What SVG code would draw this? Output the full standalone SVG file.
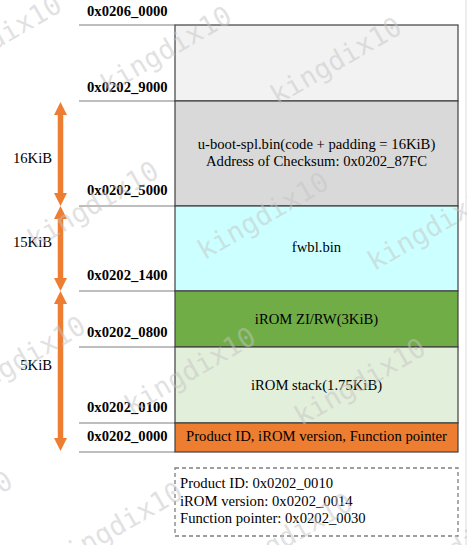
<svg xmlns="http://www.w3.org/2000/svg" xmlns:xlink="http://www.w3.org/1999/xlink" width="467" height="545" viewBox="0 0 467 545">
<style>
.addr{font-family:"Liberation Serif","Times New Roman",serif;font-size:14.67px;font-weight:bold;fill:#000}
.lbl{font-family:"Liberation Serif","Times New Roman",serif;font-size:14.67px;fill:#000}
.mid{text-anchor:middle}
.end{text-anchor:end}
.sep{stroke:#7f7f7f;stroke-width:1.2}
.blk{stroke:#404040;stroke-width:1.2}
.wm{font-family:"DejaVu Sans Mono",monospace;font-size:27px;fill:#c4c4c4;fill-opacity:0.5;text-anchor:middle}
.dim{stroke:#ed7d31;stroke-width:5.5;fill:none}
</style>
<defs>
<marker id="ah" markerUnits="userSpaceOnUse" markerWidth="13" markerHeight="13" refX="3" refY="6.5" orient="auto-start-reverse" viewBox="0 0 13 13">
<path d="M0,0 L13,6.5 L0,13 Z" fill="#ed7d31"/>
</marker>
<text id="wmt" class="wm" x="0" y="9">kingdix10</text>
</defs>
<rect width="467" height="545" fill="#fff"/>
<line x1="466" y1="0" x2="466" y2="545" stroke="#dcdcdc" stroke-width="1"/>

<g id="separators">
<line class="sep" x1="79" y1="25" x2="175" y2="25"/>
<line class="sep" x1="79" y1="101" x2="175" y2="101"/>
<line class="sep" x1="79" y1="206" x2="175" y2="206"/>
<line class="sep" x1="79" y1="291" x2="175" y2="291"/>
<line class="sep" x1="79" y1="347" x2="175" y2="347"/>
<line class="sep" x1="79" y1="423" x2="175" y2="423"/>
<line class="sep" x1="79" y1="452" x2="175" y2="452"/>
</g>

<g id="addresses">
<text class="addr" x="87" y="16">0x0206_0000</text>
<text class="addr" x="87" y="92">0x0202_9000</text>
<text class="addr" x="87" y="195">0x0202_5000</text>
<text class="addr" x="87" y="280">0x0202_1400</text>
<text class="addr" x="87" y="337">0x0202_0800</text>
<text class="addr" x="87" y="412">0x0202_0100</text>
<text class="addr" x="87" y="441">0x0202_0000</text>
</g>

<g id="node-free">
<rect class="blk" x="175" y="25" width="283" height="76" fill="#f2f2f2"/>
</g>
<g id="node-uboot">
<rect class="blk" x="175" y="101" width="283" height="105" fill="#d9d9d9"/>
<text class="lbl mid" x="316.5" y="149">u-boot-spl.bin(code + padding = 16KiB)</text>
<text class="lbl mid" x="316.5" y="166">Address of Checksum: 0x0202_87FC</text>
</g>
<g id="node-fwbl">
<rect class="blk" x="175" y="206" width="283" height="85" fill="#ccffff"/>
<text class="lbl mid" x="316.5" y="252">fwbl.bin</text>
</g>
<g id="node-zirw">
<rect class="blk" x="175" y="291" width="283" height="56" fill="#70ad47"/>
<text class="lbl mid" x="316.5" y="323.5">iROM ZI/RW(3KiB)</text>
</g>
<g id="node-stack">
<rect class="blk" x="175" y="347" width="283" height="76" fill="#e2efda"/>
<text class="lbl mid" x="316.5" y="390">iROM stack(1.75KiB)</text>
</g>
<g id="node-header">
<rect class="blk" x="175" y="423" width="283" height="29" fill="#ed7d31"/>
<text class="lbl mid" x="316.5" y="441">Product ID, iROM version, Function pointer</text>
</g>
<g id="node-note">
<rect x="175" y="468" width="283" height="68" fill="#fff" stroke="#7f7f7f" stroke-width="1.3" stroke-dasharray="4,3"/>
<text class="lbl" x="180" y="488">Product ID: 0x0202_0010</text>
<text class="lbl" x="180" y="505.5">iROM version: 0x0202_0014</text>
<text class="lbl" x="180" y="522.5">Function pointer: 0x0202_0030</text>
</g>

<g id="connectors">
<line class="dim" x1="60.5" y1="112" x2="60.5" y2="196" marker-start="url(#ah)" marker-end="url(#ah)"/>
<line class="dim" x1="60.5" y1="216" x2="60.5" y2="281" marker-start="url(#ah)" marker-end="url(#ah)"/>
<line class="dim" x1="60.5" y1="301" x2="60.5" y2="441" marker-start="url(#ah)" marker-end="url(#ah)"/>
</g>
<g id="sizes">
<text class="lbl end" x="52" y="163">16KiB</text>
<text class="lbl end" x="52" y="247">15KiB</text>
<text class="lbl end" x="52" y="370">5KiB</text>
</g>

<g id="watermark">
<use xlink:href="#wmt" transform="translate(-4,39) rotate(-30)"/>
<use xlink:href="#wmt" transform="translate(166,50) rotate(-30)"/>
<use xlink:href="#wmt" transform="translate(336,61) rotate(-30)"/>
<use xlink:href="#wmt" transform="translate(93,205) rotate(-30)"/>
<use xlink:href="#wmt" transform="translate(263,216) rotate(-30)"/>
<use xlink:href="#wmt" transform="translate(433,227) rotate(-30)"/>
<use xlink:href="#wmt" transform="translate(20,360) rotate(-30)"/>
<use xlink:href="#wmt" transform="translate(190,371) rotate(-30)"/>
<use xlink:href="#wmt" transform="translate(360,382) rotate(-30)"/>
<use xlink:href="#wmt" transform="translate(-53,515) rotate(-30)"/>
<use xlink:href="#wmt" transform="translate(117,526) rotate(-30)"/>
<use xlink:href="#wmt" transform="translate(287,537) rotate(-30)"/>
<use xlink:href="#wmt" transform="translate(457,548) rotate(-30)"/>
</g>
</svg>
